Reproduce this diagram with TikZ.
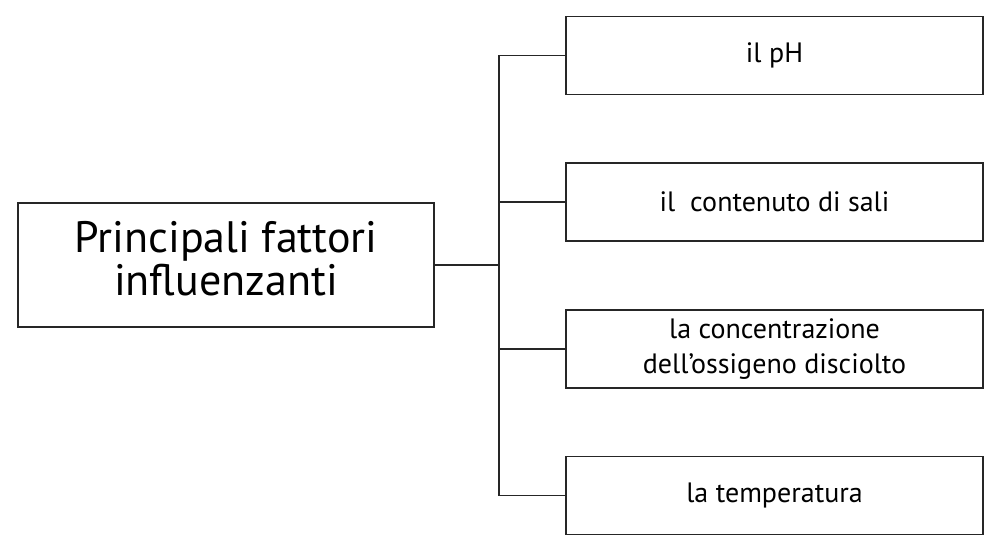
\documentclass[tikz,border=0pt]{standalone}
\usepackage{fontspec}
\setmainfont{PT Sans}
\usetikzlibrary{positioning}

\begin{document}
\begin{tikzpicture}[
    x=1pt, y=1pt,
    line width=1.6pt,
    node distance=67pt,
    fattore/.style={
        draw=black!85,
        align=center,
        minimum width=417pt,
        minimum height=78pt,
        inner sep=0pt,
        font=\fontsize{28}{35}\selectfont
    },
    titolo/.style={
        draw=black!85,
        align=center,
        minimum width=416pt,
        minimum height=124pt,
        inner sep=0pt,
        font=\fontsize{44}{45}\selectfont
    },
    ramo/.style={
        draw=black!85
    }
]
\useasboundingbox (0,0) rectangle (1000,552);

% Main box
\node[titolo] (main) at (226,287) {Principali fattori\\[-2pt]\strut influenzanti};

% Factors
\node[fattore] (ph) at (774.5,496.5) {il pH};
\node[fattore, below=of ph] (sali) {il\ \ contenuto di sali};
\node[fattore, below=of sali] (ossigeno) {la concentrazione\\dell’ossigeno disciolto};
\node[fattore, below=of ossigeno] (temp) {la temperatura};

% Connections
\path (main.east) ++(64,0) coordinate (bus);
\draw[ramo] (main.east) -- (bus);
\draw[ramo] (ph.west) -| (bus) |- (temp.west);
\draw[ramo] (sali.west) -- (sali.west -| bus);
\draw[ramo] (ossigeno.west) -- (ossigeno.west -| bus);

\end{tikzpicture}
\end{document}
